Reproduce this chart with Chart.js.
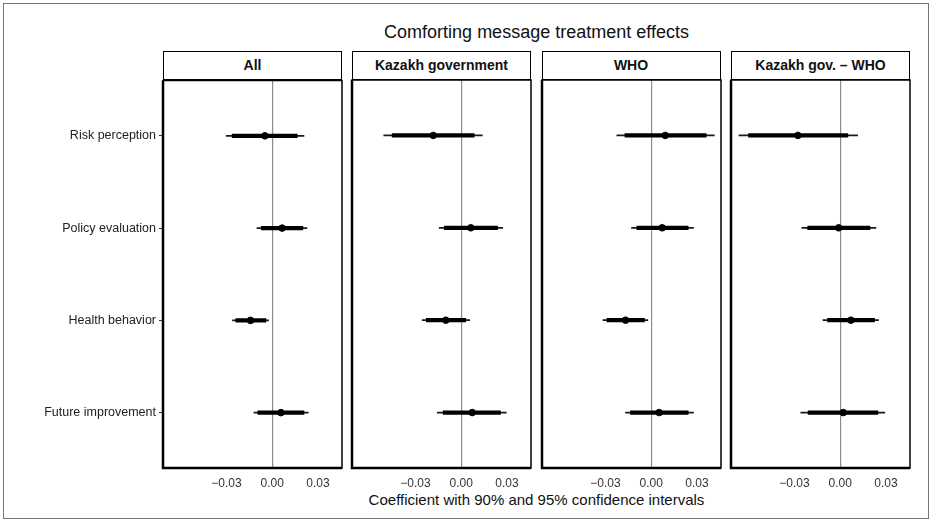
<!DOCTYPE html>
<html>
<head>
<meta charset="utf-8">
<script src="https://cdn.jsdelivr.net/npm/chart.js@4.4.1/dist/chart.umd.min.js"></script>
<style>
  body { margin: 0; background: #fff; font-family: "Liberation Sans", Arial, sans-serif; }
  #frame { position: absolute; left: 3px; top: 3px; width: 924px; height: 514px; border: 1px solid #777; }
  .panel { position: absolute; top: 70px; height: 428px; }
  .strip { position: absolute; top: 51px; width: 179px; height: 29px; box-sizing: border-box;
           border: 1.5px solid #000; background: #fff; font-weight: bold; font-size: 14px;
           text-align: center; line-height: 26px; color: #111; }
  #title { position: absolute; top: 22px; left: 163px; width: 747px; text-align: center; font-size: 18px; color: #111; }
  #xtitle { position: absolute; top: 491px; left: 163px; width: 747px; text-align: center; font-size: 15px; color: #111; }
</style>
</head>
<body>
<div id="frame"></div>
<div id="title">Comforting message treatment effects</div>
<div id="xtitle">Coefficient with 90% and 95% confidence intervals</div>
<div id="strips"></div>
<div id="panels"></div>
<script>
const categories = ['Risk perception', 'Policy evaluation', 'Health behavior', 'Future improvement'];
const panelNames = ['All', 'Kazakh government', 'WHO', 'Kazakh gov. \u2013 WHO'];

const xTicks = [-0.03, 0, 0.03];
const xTickLabels = ['\u22120.03', '0.00', '0.03'];

// All
const allEst  = [-0.0048, 0.0065, -0.0142, 0.0057];
const allLo95 = [-0.0301, -0.0100, -0.0260, -0.0120];
const allHi95 = [0.0208, 0.0227, -0.0024, 0.0236];
const allLo90 = [-0.0262, -0.0072, -0.0238, -0.0094];
const allHi90 = [0.0164, 0.0201, -0.0041, 0.0208];

// Kazakh government
const kazEst  = [-0.0183, 0.0063, -0.0101, 0.0072];
const kazLo95 = [-0.0507, -0.0144, -0.0255, -0.0157];
const kazHi95 = [0.0138, 0.0272, 0.0056, 0.0295];
const kazLo90 = [-0.0452, -0.0111, -0.0229, -0.0118];
const kazHi90 = [0.0085, 0.0238, 0.0030, 0.0257];

// WHO
const whoEst  = [0.0092, 0.0072, -0.0168, 0.0052];
const whoLo95 = [-0.0225, -0.0129, -0.0316, -0.0168];
const whoHi95 = [0.0413, 0.0277, -0.0022, 0.0277];
const whoLo90 = [-0.0172, -0.0094, -0.0290, -0.0136];
const whoHi90 = [0.0360, 0.0242, -0.0044, 0.0242];

// Kazakh gov. - WHO
const diffEst  = [-0.0277, -0.0010, 0.0070, 0.0020];
const diffLo95 = [-0.0663, -0.0251, -0.0113, -0.0258];
const diffHi95 = [0.0114, 0.0234, 0.0251, 0.0292];
const diffLo90 = [-0.0600, -0.0213, -0.0083, -0.0210];
const diffHi90 = [0.0050, 0.0195, 0.0225, 0.0247];

const xMin = -0.0715;
const xMax = 0.0457;

Chart.defaults.font.family = '"Liberation Sans", Arial, sans-serif';

const panelLeft = [163, 352, 541.5, 731];
const panelWidth = 179;

const panelBorder = {
  id: 'panelBorder',
  afterDatasetsDraw(chart) {
    const { ctx, chartArea: a } = chart;
    ctx.save();
    ctx.strokeStyle = '#000';
    ctx.lineWidth = 1.5;
    ctx.strokeRect(a.left, a.top, a.right - a.left, a.bottom - a.top);
    ctx.lineWidth = 2.5;
    ctx.beginPath();
    ctx.moveTo(a.left, a.top);
    ctx.lineTo(a.left, a.bottom);
    ctx.lineTo(a.right, a.bottom);
    ctx.stroke();
    ctx.restore();
  }
};

function makePanel(idx, est, lo95, hi95, lo90, hi90) {
  const showY = idx === 0;
  const div = document.createElement('div');
  div.className = 'panel';
  const left = showY ? 0 : panelLeft[idx] - 10;
  const width = showY ? panelLeft[0] + panelWidth + 10 : panelWidth + 20;
  div.style.left = left + 'px';
  div.style.width = width + 'px';
  const canvas = document.createElement('canvas');
  canvas.width = width;
  canvas.height = 428;
  div.appendChild(canvas);
  document.getElementById('panels').appendChild(div);

  const strip = document.createElement('div');
  strip.className = 'strip';
  strip.style.left = panelLeft[idx] + 'px';
  strip.textContent = panelNames[idx];
  document.getElementById('strips').appendChild(strip);

  new Chart(canvas.getContext('2d'), {
    type: 'bar',
    data: {
      datasets: [
        {
          type: 'bar',
          data: categories.map((c, i) => ({ x: [lo95[i], hi95[i]], y: i + 1 })),
          backgroundColor: '#1a1a1a',
          barThickness: 1.2,
          grouped: false,
          order: 3
        },
        {
          type: 'bar',
          data: categories.map((c, i) => ({ x: [lo90[i], hi90[i]], y: i + 1 })),
          backgroundColor: '#000',
          barThickness: 3.6,
          grouped: false,
          order: 2
        },
        {
          type: 'scatter',
          data: categories.map((c, i) => ({ x: est[i], y: i + 1 })),
          backgroundColor: '#000',
          borderColor: '#000',
          pointRadius: 3.3,
          order: 1
        }
      ]
    },
    options: {
      indexAxis: 'y',
      responsive: false,
      animation: false,
      layout: { padding: { top: 10, left: showY ? 0 : 10, right: 10, bottom: 0 } },
      plugins: { legend: { display: false }, tooltip: { enabled: false } },
      scales: {
        x: {
          type: 'linear',
          min: xMin,
          max: xMax,
          offset: false,
          beginAtZero: false,
          afterBuildTicks: s => { s.ticks = xTicks.map(v => ({ value: v })); },
          afterFit: s => { s.height = 30; },
          ticks: {
            callback: (v, i) => xTickLabels[i],
            color: '#333',
            font: { size: 12 },
            padding: 8,
            maxRotation: 0,
            autoSkip: false
          },
          grid: {
            color: ctx => (ctx.tick && ctx.tick.value === 0) ? '#8c8c8c' : 'rgba(0,0,0,0)',
            lineWidth: 1.2,
            drawTicks: false,
            offset: false
          },
          border: { display: false }
        },
        y: {
          type: 'linear',
          display: showY,
          min: 0.4,
          max: 4.6,
          reverse: true,
          offset: false,
          afterBuildTicks: s => { s.ticks = categories.map((c, i) => ({ value: i + 1 })); },
          afterFit: s => { s.width = showY ? panelLeft[0] : 0; },
          ticks: {
            callback: (v, i) => categories[i],
            color: '#222',
            font: { size: 12.5 },
            padding: 3,
            autoSkip: false
          },
          grid: { drawOnChartArea: false, tickLength: 4, color: '#333', offset: false },
          border: { display: false }
        }
      }
    },
    plugins: [panelBorder]
  });
}

makePanel(0, allEst, allLo95, allHi95, allLo90, allHi90);
makePanel(1, kazEst, kazLo95, kazHi95, kazLo90, kazHi90);
makePanel(2, whoEst, whoLo95, whoHi95, whoLo90, whoHi90);
makePanel(3, diffEst, diffLo95, diffHi95, diffLo90, diffHi90);
</script>
</body>
</html>
